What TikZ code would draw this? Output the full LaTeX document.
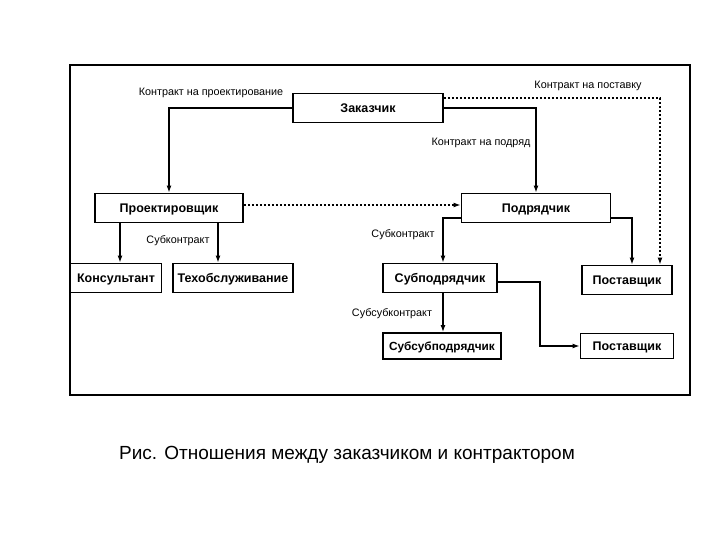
\documentclass[tikz,border=0pt]{standalone}
\usepackage{fontspec}
\setmainfont{Liberation Sans}
\usetikzlibrary{arrows.meta}

\begin{document}
\begin{tikzpicture}[x=1pt,y=-1pt]
    \tikzstyle{box}=[draw,line width=1.8pt,inner sep=0,minimum height=29pt,text height=9pt,text depth=0pt,font=\fontsize{12.5}{14}\selectfont\bfseries]
    \tikzstyle{lbl}=[inner sep=1pt,font=\fontsize{10.8}{12}\selectfont]
    \tikzstyle{link}=[line width=1.4pt,-{Latex[length=7pt,width=5pt]}]
    \tikzstyle{dotlink}=[link,dash pattern=on 2pt off 2pt]
    \useasboundingbox (0,0) rectangle (720,540);
    \draw[line width=1.2pt] (70,65) rectangle (690,395);
    \node[box,minimum width=150pt] (zak) at (368,108) {Заказчик};
    \node[box,minimum width=148pt] (proekt) at (169,208) {Проектировщик};
    \node[box,minimum width=149pt] (podr) at (536,208) {Подрядчик};
    \node[box,minimum width=91pt] (kons) at (116,278) {Консультант};
    \node[box,minimum width=120pt] (teh) at (233,278) {Техобслуживание};
    \node[box,minimum width=114pt] (subp) at (440,278) {Субподрядчик};
    \node[box,minimum width=90pt] (post1) at (627,280) {Поставщик};
    \node[box,minimum width=118pt,minimum height=26pt,font=\fontsize{11.8}{14}\selectfont\bfseries] (subsub) at (442,346) {Субсубподрядчик};
    \node[box,minimum width=93pt,minimum height=25pt] (post2) at (627,346) {Поставщик};
    % labels
    \node[lbl] (lproekt) at (211,93) {Контракт на проектирование};
    \node[lbl] (lpodr) at (481,143) {Контракт на подряд};
    \node[lbl] (lpost) at (588,86) {Контракт на поставку};
    \node[lbl] (lsub1) at (178,241) {Субконтракт};
    \node[lbl] (lsub2) at (403,235) {Субконтракт};
    \node[lbl] (lsubsub) at (392,314) {Субсубконтракт};
    % connectors
    \draw[link] (zak.west) -| (proekt.north);
    \draw[link] (zak.east) -| (podr.north);
    \draw[dotlink] ([yshift=10pt]zak.east) -| ([xshift=33pt]post1.north);
    \draw[dotlink] ([yshift=3pt]proekt.east) -- ([yshift=3pt]podr.west);
    \draw[link] ([xshift=4pt]kons.north |- proekt.south) -- ([xshift=4pt]kons.north);
    \draw[link] ([xshift=-15pt]teh.north |- proekt.south) -- ([xshift=-15pt]teh.north);
    \draw[link] ([yshift=-10pt]podr.west) -| ([xshift=3pt]subp.north);
    \draw[link] ([yshift=-10pt]podr.east) -| ([xshift=5pt]post1.north);
    \draw[link] ([xshift=3pt]subp.south) -- ([xshift=3pt]subp.south |- subsub.north);
    \draw[link] ([yshift=-4pt]subp.east) -- ++(42,0) |- (post2.west);
    \node (caption) at (347,455) {\fontsize{19}{22}\selectfont Рис. Отношения между заказчиком и контрактором};
\end{tikzpicture}
\end{document}
